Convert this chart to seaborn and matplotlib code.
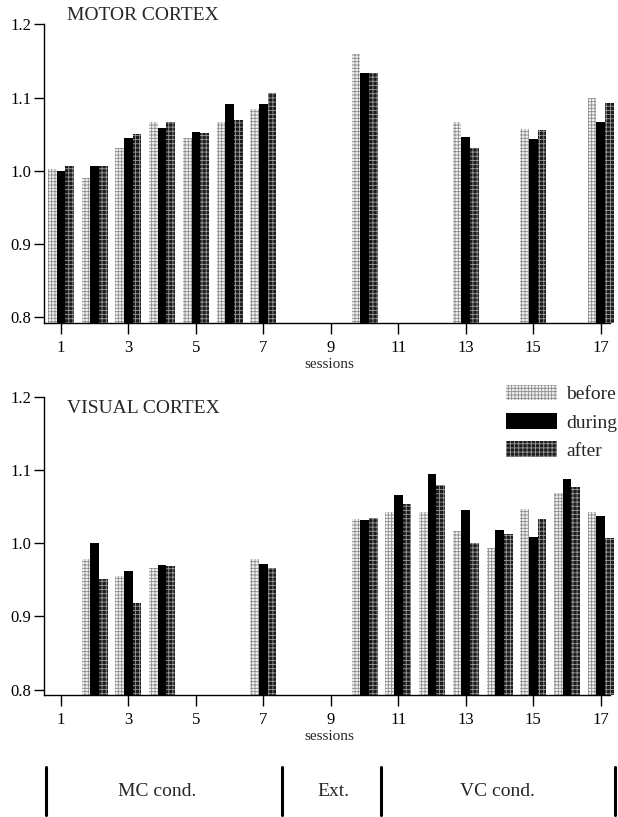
"""
Motor vs visual cortex ratios per session (before / during / after)
Output: out.png
"""

import matplotlib.pyplot as plt
from matplotlib.lines import Line2D
from matplotlib.ticker import FormatStrFormatter
import pandas as pd
import seaborn as sns

ALL_SESSIONS = list(range(1, 18))
PHASES = ['before', 'during', 'after']

# motor cortex
mc_sessions = [1, 2, 3, 4, 5, 6, 7, 10, 13, 15, 17]
mc_before = [1.003, 0.990, 1.031, 1.066, 1.045, 1.066, 1.085, 1.159, 1.067, 1.057, 1.100]
mc_during = [1.000, 1.006, 1.045, 1.059, 1.053, 1.091, 1.091, 1.134, 1.046, 1.043, 1.066]
mc_after = [1.006, 1.006, 1.050, 1.067, 1.051, 1.069, 1.106, 1.133, 1.031, 1.056, 1.093]

# visual cortex
vc_sessions = [2, 3, 4, 7, 10, 11, 12, 13, 14, 15, 16, 17]
vc_before = [0.978, 0.955, 0.966, 0.978, 1.033, 1.043, 1.043, 1.016, 0.993, 1.047, 1.069, 1.043]
vc_during = [1.000, 0.962, 0.970, 0.971, 1.031, 1.066, 1.094, 1.045, 1.018, 1.008, 1.087, 1.037]
vc_after = [0.951, 0.918, 0.969, 0.966, 1.034, 1.054, 1.080, 1.000, 1.013, 1.033, 1.077, 1.007]

# bottom annotation: condition blocks
cond_labels = ['MC cond.', 'Ext.', 'VC cond.']

# look of each phase: face, hatch colour, hatch
STYLES = {
    'before': ('#f2f2f2', '#8c8c8c', '+++++'),
    'during': ('#000000', '#000000', ''),
    'after': ('#1c1c1c', '#9a9a9a', '++++'),
}

sns.set_style('ticks')
plt.rcParams.update({
    'font.family': 'serif',
    'font.serif': ['Liberation Serif', 'DejaVu Serif'],
    'hatch.linewidth': 0.6,
    'axes.linewidth': 1.0,
    'axes.edgecolor': 'black',
    'xtick.color': 'black',
    'ytick.color': 'black',
})


def draw_panel(ax, sessions, before, during, after, title, title_y):
    df = pd.DataFrame({'session': sessions, 'before': before,
                       'during': during, 'after': after})
    df = df.melt(id_vars='session', var_name='phase', value_name='ratio')

    sns.barplot(data=df, x='session', y='ratio', hue='phase',
                order=ALL_SESSIONS, hue_order=PHASES, width=0.77,
                errorbar=None, saturation=1, legend=False, ax=ax,
                palette=['#cccccc', 'black', '#333333'], linewidth=0)

    for phase, cont in zip(PHASES, ax.containers):
        face, hcol, hatch = STYLES[phase]
        for bar in cont:
            bar.set_facecolor(face)
            bar.set_edgecolor(hcol)
            bar.set_hatch(hatch)
            bar.set_linewidth(0)

    ax.set_xlim(-0.5, 16.4)
    ax.set_ylim(0.7925, 1.2)
    ax.spines['bottom'].set_bounds(-0.5, 16.27)
    ax.spines['top'].set_visible(False)
    ax.spines['right'].set_visible(False)

    ax.set_xticks(range(0, 17, 2))
    ax.set_xticklabels([str(s) for s in ALL_SESSIONS[::2]])
    ax.set_yticks([0.8, 0.9, 1.0, 1.1, 1.2])
    ax.yaxis.set_major_formatter(FormatStrFormatter('%.1f'))
    ax.tick_params(axis='x', length=8, width=1, pad=4, labelsize=12)
    ax.tick_params(axis='y', length=7, width=1, pad=2, labelsize=12)
    ax.set_xlabel('sessions', fontsize=11, labelpad=2)
    ax.set_ylabel('')

    ax.text(0.041, title_y, title, transform=ax.transAxes, fontsize=14,
            ha='left', va='center')


fig = plt.figure(figsize=(6.18, 8.17), dpi=100)
ax_mc = fig.add_axes([0.0712, 0.6047, 0.9227, 0.3656])
ax_vc = fig.add_axes([0.0712, 0.1493, 0.9227, 0.3651])

draw_panel(ax_mc, mc_sessions, mc_before, mc_during, mc_after,
           'MOTOR CORTEX', 1.028)
draw_panel(ax_vc, vc_sessions, vc_before, vc_during, vc_after,
           'VISUAL CORTEX', 0.962)

ax_vc.legend(handles=ax_vc.containers, labels=PHASES, loc='upper left',
             bbox_to_anchor=(0.819, 0.529), bbox_transform=fig.transFigure,
             frameon=False, fontsize=14, borderpad=0, borderaxespad=0,
             handlelength=2.63, handleheight=0.85, handletextpad=0.45,
             labelspacing=0.5)

# condition bar along the bottom
for xf in [46 / 618, 282 / 618, 381 / 618, 615 / 618]:
    fig.add_artist(Line2D([xf, xf], [0.003, 0.061], color='black', lw=2.2))
for label, xf in zip(cond_labels, [157 / 618, 333 / 618, 497 / 618]):
    fig.text(xf, 0.031, label, ha='center', va='center', fontsize=14)

fig.savefig('out.png', dpi=100)
plt.close(fig)
